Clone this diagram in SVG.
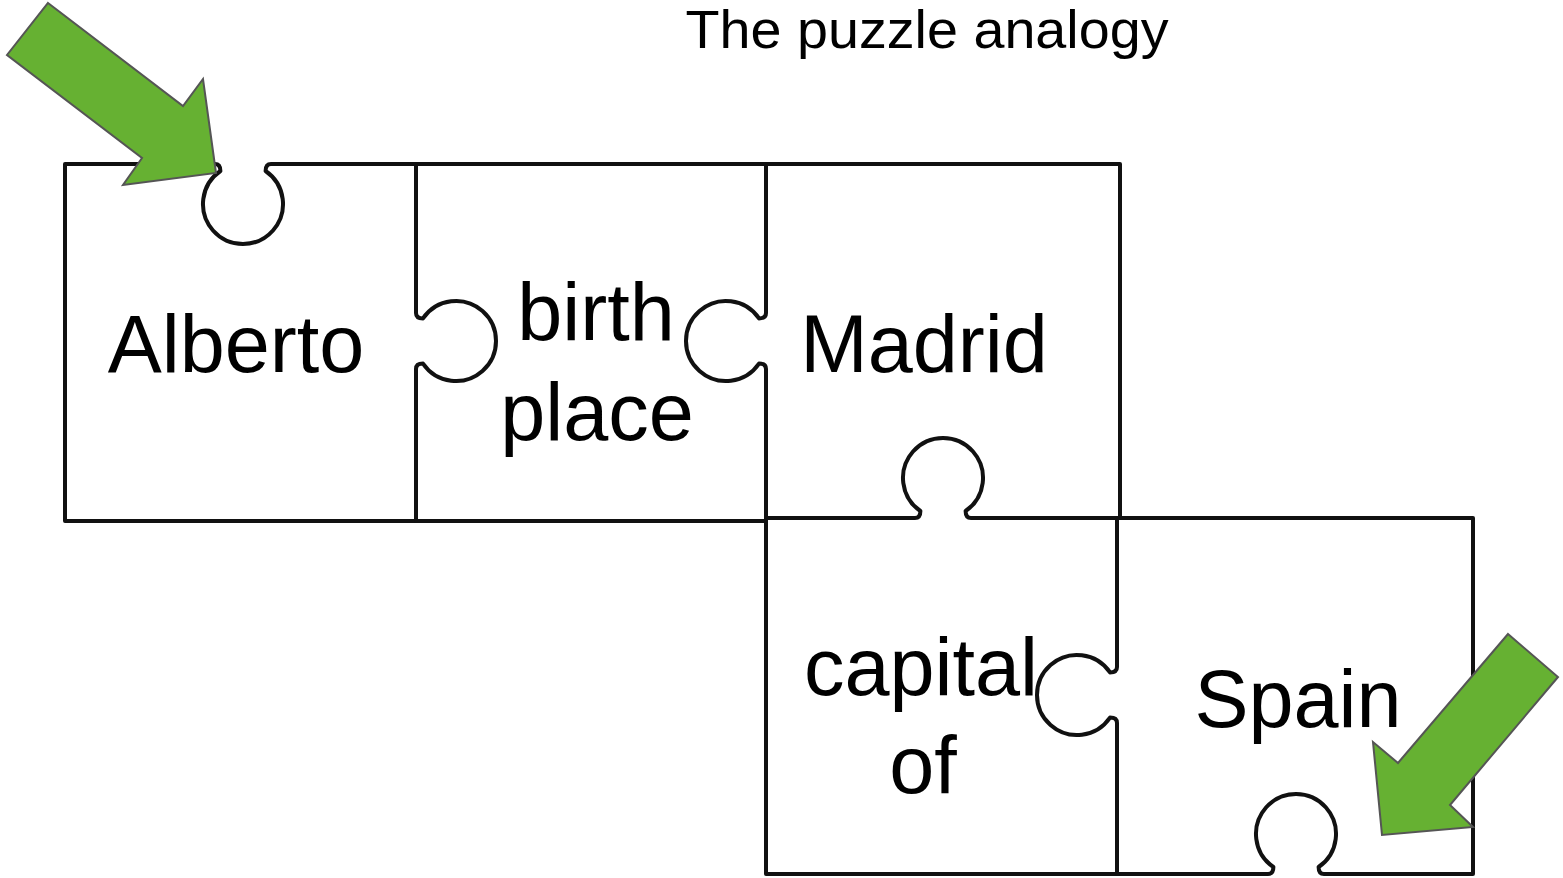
<svg xmlns="http://www.w3.org/2000/svg" width="1563" height="878" viewBox="0 0 1563 878">
<style>
.edge{fill:none;stroke:#111;stroke-width:4;stroke-linejoin:round}
.lbl{font-family:"Liberation Sans",Arial,sans-serif;font-size:81px;fill:#000;text-anchor:middle}
.title{font-family:"Liberation Sans",Arial,sans-serif;font-size:53px;fill:#000;text-anchor:middle}
.arrow{fill:#66b132;stroke:#555;stroke-width:2;stroke-linejoin:miter}
</style>
<rect width="1563" height="878" fill="#fff"/>
<text class="title" x="927" y="48" textLength="483" lengthAdjust="spacingAndGlyphs">The puzzle analogy</text>
<g id="piece-alberto">
<path class="edge" d="M416,164 L271,164 Q265.6,164 265.6,171 A40,40 0 1 1 220.4,171 Q220.4,164 215,164 L65,164 L65,521 L416,521"/>
<text class="lbl" x="236" y="372">Alberto</text>
</g>
<g id="piece-birthplace">
<path class="edge" d="M416,164 L416,313 Q416,318.4 423,318.4 A40,40 0 1 1 423,363.6 Q416,363.6 416,369 L416,521 L766,521"/>
<path class="edge" d="M416,164 L766,164"/>
<text class="lbl" x="596" y="340">birth</text>
<text class="lbl" x="597" y="440">place</text>
</g>
<g id="piece-madrid">
<path class="edge" d="M766,164 L766,313 Q766,318.4 759,318.4 A40,40 0 1 0 759,363.6 Q766,363.6 766,369 L766,518"/>
<path class="edge" d="M766,164 L1120,164 L1120,518"/>
<text class="lbl" x="924" y="372">Madrid</text>
</g>
<g id="piece-capital">
<path class="edge" d="M766,518 L915,518 Q920.4,518 920.4,511 A40,40 0 1 1 965.6,511 Q965.6,518 971,518 L1118,518"/>
<path class="edge" d="M766,518 L766,874 L1118,874"/>
<text class="lbl" x="921" y="695">capital</text>
<text class="lbl" x="923" y="793">of</text>
</g>
<g id="piece-spain">
<path class="edge" d="M1117,518 L1117,667 Q1117,672.4 1110,672.4 A40,40 0 1 0 1110,717.6 Q1117,717.6 1117,723 L1117,874 L1268,874 Q1273.4,874 1273.4,867 A40,40 0 1 1 1318.6,867 Q1318.6,874 1324,874 L1473,874 L1473,518 L1117,518"/>
<text class="lbl" x="1298" y="727">Spain</text>
</g>
<g id="connectors">
<polygon class="arrow" points="48,3 183,106 203,79 216,173 123,185 142,158 7,55"/>
<polygon class="arrow" points="1508,634 1558,677 1450,805 1473,827 1382,835 1373,742 1398,763"/>
</g>
</svg>
